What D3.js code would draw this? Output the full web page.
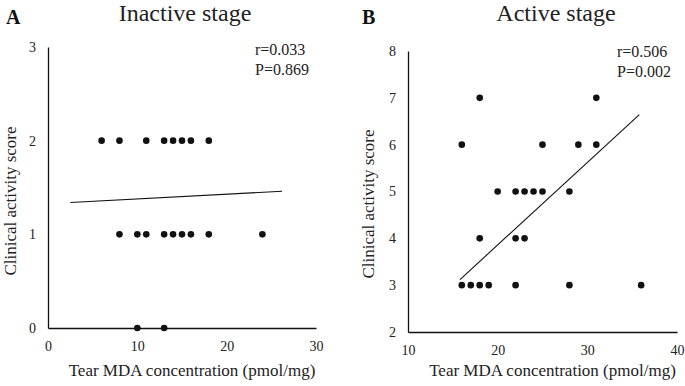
<!DOCTYPE html>
<html>
<head>
<meta charset="utf-8">
<script src="https://cdn.jsdelivr.net/npm/d3@7"></script>
<style>
  body { margin: 0; background: #fff; }
</style>
</head>
<body>
<div id="viz-container"></div>
<script>
// panel A - inactive stage
let inactiveX = [6, 8, 11, 13, 14, 15, 16, 18, 8, 10, 11, 13, 14, 15, 16, 18, 24, 10, 13];
let inactiveY = [2, 2, 2, 2, 2, 2, 2, 2, 1, 1, 1, 1, 1, 1, 1, 1, 1, 0, 0];
let inactiveTrendX = [2.5, 26.2];
let inactiveTrendY = [1.34, 1.46];
let inactiveXTicks = [0, 10, 20, 30];
let inactiveYTicks = [0, 1, 2, 3];

// panel B - active stage
let activeX = [18, 31, 16, 25, 29, 31, 20, 22, 23, 24, 25, 28, 18, 22, 23, 16, 17, 18, 19, 22, 28, 36];
let activeY = [7, 7, 6, 6, 6, 6, 5, 5, 5, 5, 5, 5, 4, 4, 4, 3, 3, 3, 3, 3, 3, 3];
let activeTrendX = [15.8, 35.8];
let activeTrendY = [3.12, 6.64];
let activeXTicks = [10, 20, 30, 40];
let activeYTicks = [2, 3, 4, 5, 6, 7, 8];

let width = 685;
let height = 386;
let serif = '"Liberation Serif", "Times New Roman", Times, serif';

let viz = d3.select('#viz-container')
  .append('svg')
  .attr('width', width)
  .attr('height', height);

function addText(str, x, y, size) {
  return viz.append('text')
    .text(str)
    .attr('x', x)
    .attr('y', y)
    .style('font-family', serif)
    .style('font-size', size + 'px')
    .style('fill', '#222');
}

function drawPanel(p) {
  let xScale = d3.scaleLinear().domain(d3.extent(p.xTicks)).range([p.left, p.right]);
  let yScale = d3.scaleLinear().domain(d3.extent(p.yTicks)).range([p.bottom, p.top]);

  let xAxis = viz.append('g')
    .attr('transform', 'translate(0,' + p.bottom + ')')
    .call(d3.axisBottom(xScale).tickValues(p.xTicks).tickSize(0).tickPadding(13).tickFormat(d3.format('d')));
  let yAxis = viz.append('g')
    .attr('transform', 'translate(' + p.left + ',0)')
    .call(d3.axisLeft(yScale).tickValues(p.yTicks).tickSize(0).tickPadding(12).tickFormat(d3.format('d')));

  [xAxis, yAxis].forEach(function(ax) {
    ax.select('.domain').attr('stroke', '#111').attr('stroke-width', 1.3);
    ax.selectAll('text')
      .style('font-family', serif)
      .style('font-size', '14px')
      .style('fill', '#222');
  });

  // trendline
  let line = d3.line().x(d => xScale(d[0])).y(d => yScale(d[1]));
  viz.append('path')
    .datum(p.trendX.map((x, i) => [x, p.trendY[i]]))
    .attr('d', line)
    .attr('fill', 'none')
    .attr('stroke', '#111')
    .attr('stroke-width', 1.1);

  viz.selectAll('.dot' + p.id).data(p.xs).enter()
    .append('circle')
    .attr('class', 'dot' + p.id)
    .attr('cx', d => xScale(d))
    .attr('cy', (d, i) => yScale(p.ys[i]))
    .attr('r', 3.3)
    .attr('fill', '#111');

  addText(p.title, p.titleX, 21, 24).attr('text-anchor', 'middle');
  addText(p.letter, p.letterX, 24, 20).style('font-weight', 'bold').style('fill', '#111');

  addText(p.rText, p.statX, p.statY, 16);
  addText(p.pText, p.statX, p.statY + 20, 16);

  addText('Tear MDA concentration (pmol/mg)', (p.left + p.right) / 2 + 10, 376, 17)
    .attr('text-anchor', 'middle');

  addText('Clinical activity score', 0, 0, 17)
    .attr('transform', 'translate(' + p.yLabelX + ',' + p.yLabelY + ') rotate(-90)')
    .attr('text-anchor', 'middle');
}

drawPanel({
  id: 'A', letter: 'A', title: 'Inactive stage',
  xs: inactiveX, ys: inactiveY, trendX: inactiveTrendX, trendY: inactiveTrendY,
  xTicks: inactiveXTicks, yTicks: inactiveYTicks,
  rText: 'r=0.033', pText: 'P=0.869',
  left: 48, right: 316, top: 47, bottom: 328,
  titleX: 185, letterX: 6, statX: 255, statY: 55,
  yLabelX: 16, yLabelY: 201
});

drawPanel({
  id: 'B', letter: 'B', title: 'Active stage',
  xs: activeX, ys: activeY, trendX: activeTrendX, trendY: activeTrendY,
  xTicks: activeXTicks, yTicks: activeYTicks,
  rText: 'r=0.506', pText: 'P=0.002',
  left: 408, right: 677, top: 51, bottom: 332,
  titleX: 556, letterX: 362, statX: 617, statY: 57,
  yLabelX: 374, yLabelY: 204
});
</script>
</body>
</html>
